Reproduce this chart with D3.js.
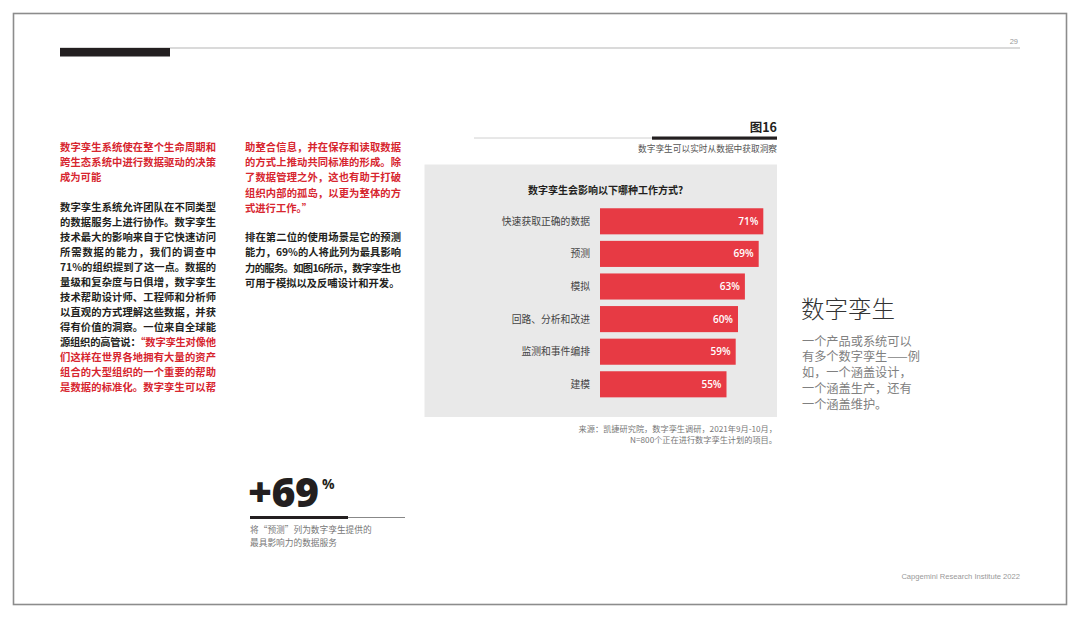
<!DOCTYPE html>
<html><head><meta charset="utf-8">
<script src="https://cdn.jsdelivr.net/npm/d3@7"></script>
<style>
html,body{margin:0;padding:0;background:#fff;}
svg{display:block;}
text{font-family:"Noto Sans CJK SC","Noto Sans",sans-serif;}
</style></head>
<body>
<svg id="chart" width="1080" height="619"></svg>
<script>
// ---- data ----
const categories = ["快速获取正确的数据","预测","模拟","回路、分析和改进","监测和事件编排","建模"];
const values = [71,69,63,60,59,55];
const valueLabels = ["71%","69%","63%","60%","59%","55%"];
const chartTitle = "数字孪生会影响以下哪种工作方式?";
const figLabel = "图16";
const figSubtitle = "数字孪生可以实时从数据中获取洞察";
const sourceLines = ["来源：凯捷研究院，数字孪生调研，2021年9月-10月，","N=800个正在进行数字孪生计划的项目。"];
const headingLines = ["数字孪生系统使在整个生命周期和","跨生态系统中进行数据驱动的决策","成为可能"];
// each line: [blackPart, redPart, justify]
const col1Lines = [
  ["数字孪生系统允许团队在不同类型","",true],
  ["的数据服务上进行协作。数字孪生","",true],
  ["技术最大的影响来自于它快速访问","",true],
  ["所需数据的能力，我们的调查中","",true],
  ["71%的组织提到了这一点。数据的","",true],
  ["量级和复杂度与日俱增，数字孪生","",true],
  ["技术帮助设计师、工程师和分析师","",true],
  ["以直观的方式理解这些数据，并获","",true],
  ["得有价值的洞察。一位来自全球能","",true],
  ["源组织的高管说：","“数字孪生对像他",true],
  ["","们这样在世界各地拥有大量的资产",true],
  ["","组合的大型组织的一个重要的帮助",true],
  ["","是数据的标准化。数字孪生可以帮",true]
];
const col2Red = [
  ["助整合信息，并在保存和读取数据",true],
  ["的方式上推动共同标准的形成。除",true],
  ["了数据管理之外，这也有助于打破",true],
  ["组织内部的孤岛，以更为整体的方",true],
  ["式进行工作。”",false]
];
const col2Black = [
  ["排在第二位的使用场景是它的预测",true],
  ["能力，69%的人将此列为最具影响",true],
  ["力的服务。如图16所示，数字孪生也",true],
  ["可用于模拟以及反哺设计和开发。",false]
];
const sideTitle = "数字孪生";
const sideLines = ["一个产品或系统可以","有多个数字孪生——例","如，一个涵盖设计，","一个涵盖生产，还有","一个涵盖维护。"];
const bigStat = "+69";
const bigStatUnit = "%";
const statCaption = ["将“预测”列为数字孪生提供的","最具影响力的数据服务"];
const footer = "Capgemini Research Institute 2022";
const pageNum = "29";

// ---- drawing ----
const svg = d3.select("#chart");
const RED = "#d7262f", DARK = "#231f20";

// page frame
svg.append("rect").attr("x",13.5).attr("y",13.5).attr("width",1053).attr("height",591)
  .attr("fill","#fff").attr("stroke","#8c8c8c").attr("stroke-width",1.6);
// top rule
svg.append("line").attr("x1",60).attr("x2",1020).attr("y1",48).attr("y2",48).attr("stroke","#b5b5b5").attr("stroke-width",1);
svg.append("rect").attr("x",60).attr("y",48).attr("width",110).attr("height",8.5).attr("fill","#231f20");
svg.append("text").attr("x",1018).attr("y",44).attr("text-anchor","end").attr("font-size",7.5)
  .attr("fill","#999").style("font-family","Liberation Sans, Arial, sans-serif").text(pageNum);

// left column heading
const g1 = svg.append("g");
headingLines.forEach((t,i)=>{
  const tx = g1.append("text").attr("x",60).attr("y",151+i*15).attr("font-size",10.3)
    .attr("font-weight","bold").attr("fill",RED).text(t);
  if(i<headingLines.length-1) tx.attr("textLength",156).attr("lengthAdjust","spacing");
});
col1Lines.forEach((l,i)=>{
  const tx = g1.append("text").attr("x",60).attr("y",211+i*15).attr("font-size",10.3)
    .attr("font-weight","bold").attr("fill",DARK);
  if(l[0]) tx.append("tspan").text(l[0]);
  if(l[1]) tx.append("tspan").attr("fill",RED).text(l[1]);
  if(l[2]) tx.attr("textLength",156).attr("lengthAdjust","spacing");
});
// second column
col2Red.forEach((l,i)=>{
  const tx = g1.append("text").attr("x",245).attr("y",151+i*15.2).attr("font-size",10.3)
    .attr("font-weight","bold").attr("fill",RED).text(l[0]);
  if(l[1]) tx.attr("textLength",156).attr("lengthAdjust","spacing");
});
col2Black.forEach((l,i)=>{
  const tx = g1.append("text").attr("x",245).attr("y",241+i*15.3).attr("font-size",10.3)
    .attr("font-weight","bold").attr("fill",DARK).text(l[0]);
  if(l[1]) tx.attr("textLength",156).attr("lengthAdjust","spacing");
});

// figure header
svg.append("text").attr("x",777).attr("y",132).attr("text-anchor","end").attr("font-size",12.5)
  .attr("font-weight","bold").attr("fill",DARK).text(figLabel);
svg.append("line").attr("x1",474).attr("x2",652).attr("y1",138).attr("y2",138).attr("stroke","#d0d0d0").attr("stroke-width",1);
svg.append("rect").attr("x",652).attr("y",136.5).attr("width",125).attr("height",3.2).attr("fill",DARK);
svg.append("text").attr("x",777).attr("y",152).attr("text-anchor","end").attr("font-size",8.7)
  .attr("fill","#555").text(figSubtitle);

// chart panel
svg.append("rect").attr("x",424.5).attr("y",164.5).attr("width",352.5).attr("height",252.5).attr("fill","#e9e9e9");
svg.append("text").attr("x",605.5).attr("y",194).attr("text-anchor","middle").attr("font-size",10)
  .attr("font-weight","bold").attr("fill",DARK).text(chartTitle);

const x = d3.scaleLinear().domain([0,100]).range([600,830]);
const y = d3.scaleBand().domain(categories).range([205,400.6]).paddingInner(0.2).paddingOuter(0.1);
const data = categories.map((c,i)=>({c, v:values[i], l:valueLabels[i]}));

svg.append("g").selectAll("rect").data(data).join("rect")
  .attr("x",x(0)).attr("y",d=>y(d.c)).attr("width",d=>x(d.v)-x(0)).attr("height",y.bandwidth())
  .attr("fill","#e73a44");
svg.append("g").selectAll("text").data(data).join("text")
  .attr("x",d=>x(d.v)-5).attr("y",d=>y(d.c)+y.bandwidth()/2).attr("dy","0.35em")
  .attr("text-anchor","end").attr("font-size",10).attr("font-weight",600).attr("fill","#fff")
  .style("font-family","Open Sans, sans-serif").text(d=>d.l);
svg.append("g").selectAll("text").data(data).join("text")
  .attr("x",x(0)-10).attr("y",d=>y(d.c)+y.bandwidth()/2).attr("dy","0.36em")
  .attr("text-anchor","end").attr("font-size",9.8).attr("fill","#444").text(d=>d.c);

// source
sourceLines.forEach((t,i)=>{
  svg.append("text").attr("x",777).attr("y",432+i*10.8).attr("text-anchor","end").attr("font-size",8.2)
    .attr("fill","#777").text(t);
});

// side note
svg.append("text").attr("x",801).attr("y",318).attr("font-size",23.5).attr("font-weight",300)
  .attr("fill","#333").text(sideTitle);
sideLines.forEach((t,i)=>{
  svg.append("text").attr("x",802).attr("y",345.5+i*15.9).attr("font-size",12.2)
    .attr("fill","#808080").text(t);
});

// big stat
svg.append("text").attr("x",248).attr("y",507).attr("font-size",41).attr("font-weight",800)
  .attr("fill","#231f20").attr("letter-spacing",-0.5).style("font-family","Open Sans, sans-serif").text(bigStat);
svg.append("text").attr("x",322).attr("y",489).attr("font-size",14).attr("font-weight",700)
  .attr("fill","#231f20").style("font-family","Open Sans, sans-serif").text(bigStatUnit);
svg.append("line").attr("x1",348).attr("x2",405).attr("y1",517.5).attr("y2",517.5).attr("stroke","#888").attr("stroke-width",1);
svg.append("rect").attr("x",250).attr("y",516).attr("width",98).attr("height",3).attr("fill","#231f20");
statCaption.forEach((t,i)=>{
  svg.append("text").attr("x",250).attr("y",532.5+i*13.5).attr("font-size",8.7).attr("fill","#777").text(t);
});

// footer
svg.append("text").attr("x",1020).attr("y",579).attr("text-anchor","end").attr("font-size",7.6)
  .attr("fill","#999").style("font-family","Liberation Sans, Arial, sans-serif").text(footer);
</script>
</body></html>
